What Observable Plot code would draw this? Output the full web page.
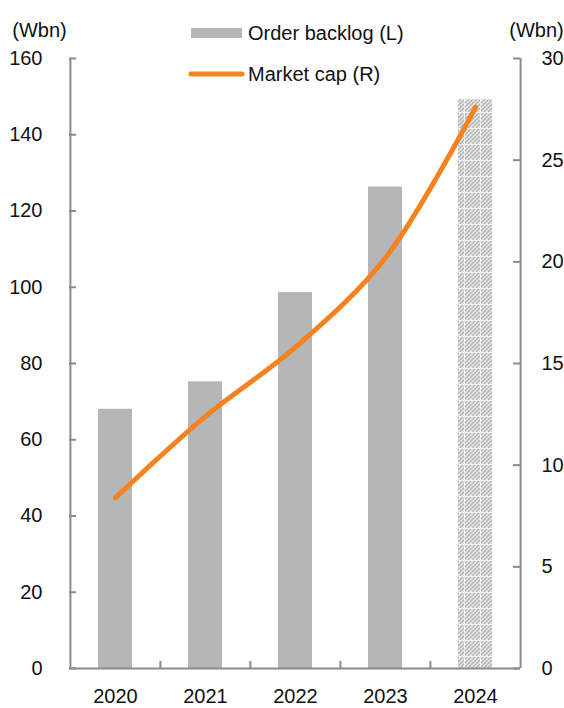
<!DOCTYPE html>
<html><head><meta charset="utf-8">
<script src="https://cdn.jsdelivr.net/npm/d3@7"></script>
<script src="https://cdn.jsdelivr.net/npm/@observablehq/plot@0.6"></script>
<style>
body{margin:0;background:#fff;font-family:"Liberation Sans",Arial,sans-serif;}
#wrap{position:relative;width:564px;height:708px;}
.leg{position:absolute;font-size:20px;line-height:22px;color:#111;white-space:nowrap;}
</style></head><body><div id="wrap"></div>
<script>
const years = ["2020", "2021", "2022", "2023", "2024"];
const backlog = [68, 75.2, 98.6, 126.3, 149.2];
const marketCap = [8.4, 12.4, 15.8, 20.2, 27.6];
const estimateYears = ["2024"];
const leftTicks = [0, 20, 40, 60, 80, 100, 120, 140, 160];
const rightTicks = [0, 5, 10, 15, 20, 25, 30];
const leftMax = 160, rightMax = 30;
const unitLabel = "(Wbn)";
const seriesNames = ["Order backlog (L)", "Market cap (R)"];

const ratio = leftMax / rightMax;
const rows = years.map((year, i) => ({year, backlog: backlog[i], cap: marketCap[i], est: estimateYears.includes(year)}));

const W = 564, H = 708, mL = 69, mR = 44, mT = 58, mB = 40;
const plotW = W - mL - mR, plotH = H - mT - mB;
const band = plotW / years.length;
const axisColor = "#8a8a8a";
const barGray = "#b5b6b8";
const orange = "#f5821f";
const font = '"Liberation Sans", Arial, sans-serif';

const chart = Plot.plot({
  width: W, height: H, marginLeft: mL, marginRight: mR, marginTop: mT, marginBottom: mB,
  style: {fontFamily: font, fontSize: "20px", color: "#111", background: "#fff", overflow: "visible"},
  x: {type: "band", domain: years, padding: 0},
  y: {domain: [0, leftMax]},
  marks: [
    Plot.barY(rows.filter(d => !d.est), {x: "year", y: "backlog", fill: barGray, insetLeft: 28, insetRight: 28}),
    Plot.barY(rows.filter(d => d.est), {x: "year", y: "backlog", fill: "#d0d0d0", insetLeft: 28, insetRight: 28, className: "hatched"}),
    Plot.line(rows, {x: "year", y: d => d.cap * ratio, stroke: orange, strokeWidth: 5, curve: "catmull-rom", strokeLinecap: "round", strokeLinejoin: "round"}),
    // axis lines
    Plot.ruleX([years[0]], {x: d => d, dx: -band / 2, y1: 0, y2: leftMax, stroke: axisColor, strokeWidth: 2}),
    Plot.ruleX([years[years.length - 1]], {x: d => d, dx: band / 2, y1: 0, y2: leftMax, stroke: axisColor, strokeWidth: 2}),
    Plot.ruleY([0], {stroke: axisColor, strokeWidth: 2}),
    // inward ticks
    Plot.tickY(leftTicks, {y: d => d, stroke: axisColor, strokeWidth: 2, insetRight: plotW - 7}),
    Plot.tickY(rightTicks, {y: d => d * ratio, stroke: axisColor, strokeWidth: 2, insetLeft: plotW - 7}),
    Plot.tickX(years.slice(1), {x: d => d, dx: -band / 2, stroke: axisColor, strokeWidth: 2, insetTop: plotH - 7}),
    // labels
    Plot.axisY({anchor: "left", ticks: leftTicks, tickSize: 0, tickPadding: 27, label: null, fontSize: 20, fill: "#111"}),
    Plot.axisY({anchor: "right", ticks: rightTicks.map(d => d * ratio), tickFormat: d => Math.round(d / ratio), tickSize: 0, tickPadding: 21, label: null, fontSize: 20, fill: "#111"}),
    Plot.axisX({tickSize: 0, tickPadding: 20, label: null, fontSize: 20, fill: "#111"}),
    Plot.text([unitLabel], {frameAnchor: "top-left", text: d => d, dx: -30, dy: -36, textAnchor: "middle", fontSize: 20, fill: "#111"}),
    Plot.text([unitLabel], {frameAnchor: "top-right", text: d => d, dx: 16, dy: -36, textAnchor: "middle", fontSize: 20, fill: "#111"})
  ]
});

// hatch pattern for the estimate bar
const svg = d3.select(chart);
const defs = svg.insert("defs", ":first-child");
const pat = defs.append("pattern").attr("id", "hatch").attr("patternUnits", "userSpaceOnUse")
  .attr("width", 16).attr("height", 16);
pat.append("rect").attr("width", 16).attr("height", 16).attr("fill", "#e9e9e9");
for (let k = -16; k <= 16; k += 4) {
  pat.append("line").attr("x1", k).attr("y1", 16).attr("x2", k + 16).attr("y2", 0)
    .attr("stroke", "#b3b3b3").attr("stroke-width", 1.3);
}
pat.append("path").attr("d", "M0,0.5H16M0.5,0V16").attr("stroke", "#f0f0f0").attr("stroke-width", 1).attr("fill", "none");
svg.selectAll(".hatched rect").attr("fill", "url(#hatch)");

const wrap = document.getElementById("wrap");
wrap.appendChild(chart);

// legend overlay
const legend = [
  {name: seriesNames[0], type: "bar", cy: 33},
  {name: seriesNames[1], type: "line", cy: 74}
];
legend.forEach(l => {
  const sw = document.createElementNS("http://www.w3.org/2000/svg", "svg");
  sw.setAttribute("width", 60); sw.setAttribute("height", 14);
  sw.style.position = "absolute"; sw.style.left = "186px"; sw.style.top = (l.cy - 7) + "px";
  if (l.type === "bar") {
    const r = document.createElementNS("http://www.w3.org/2000/svg", "rect");
    r.setAttribute("x", 5); r.setAttribute("y", 2); r.setAttribute("width", 51); r.setAttribute("height", 10); r.setAttribute("fill", barGray);
    sw.appendChild(r);
  } else {
    const ln = document.createElementNS("http://www.w3.org/2000/svg", "line");
    ln.setAttribute("x1", 5); ln.setAttribute("x2", 56); ln.setAttribute("y1", 7); ln.setAttribute("y2", 7);
    ln.setAttribute("stroke", orange); ln.setAttribute("stroke-width", 5); ln.setAttribute("stroke-linecap", "round");
    sw.appendChild(ln);
  }
  wrap.appendChild(sw);
  const t = document.createElement("div");
  t.className = "leg"; t.textContent = l.name;
  t.style.left = "248px"; t.style.top = (l.cy - 11) + "px";
  wrap.appendChild(t);
});
</script></body></html>
